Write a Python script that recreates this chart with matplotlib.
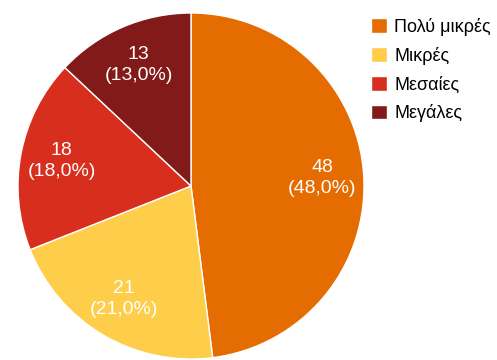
import matplotlib.pyplot as plt

plt.rcParams['font.family'] = ['Liberation Sans', 'DejaVu Sans']

# answer counts per size group
labels = ["Πολύ μικρές", "Μικρές", "Μεσαίες", "Μεγάλες"]
counts = [48, 21, 18, 13]
colors = ["#E46C00", "#FECD4A", "#D72E1E", "#831A1A"]

total = sum(counts)

fig = plt.figure(figsize=(4.97, 3.6), dpi=100)
ax = fig.add_axes([18 / 497, 1 / 360, 346 / 497, 346 / 360])

def fmt(pct):
    n = round(pct * total / 100)
    return f"{n}\n({pct:.1f}%)".replace(".", ",")

wedges, texts, autotexts = ax.pie(
    counts, colors=colors, startangle=90, counterclock=False,
    autopct=fmt, pctdistance=0.76,
    wedgeprops=dict(edgecolor="white", linewidth=1),
    textprops=dict(color="white", fontsize=14, linespacing=1.3),
)
ax.set_aspect("equal")
ax.set_xlim(-1, 1)
ax.set_ylim(-1, 1)

fig.legend(wedges, labels, loc="upper left", bbox_to_anchor=(371 / 497, 1 - 18 / 360),
           frameon=False, fontsize=13, handlelength=0.9, handleheight=0.9,
           handletextpad=0.4, labelspacing=0.6, borderaxespad=0, borderpad=0)

fig.savefig("out.png", dpi=100)
